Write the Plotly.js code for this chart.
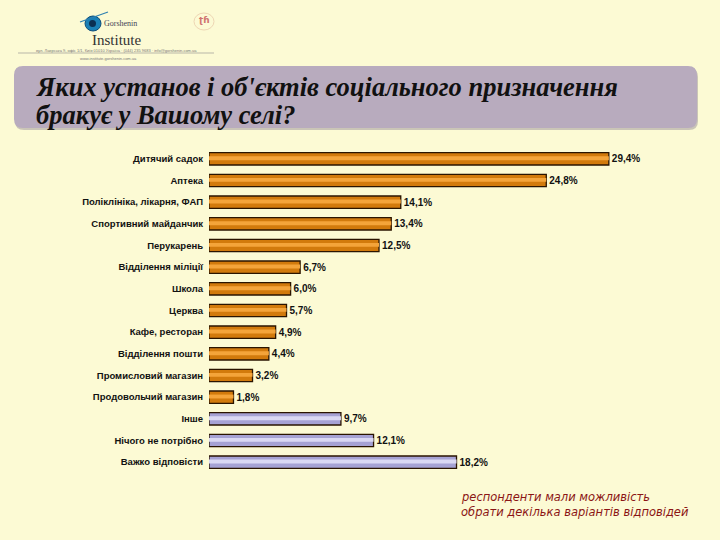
<!DOCTYPE html>
<html>
<head>
<meta charset="utf-8">
<script src="https://cdn.plot.ly/plotly-3.0.1.min.js"></script>
<style>
  body { margin: 0; background: #fcfad4; }
  #chart { width: 720px; height: 540px; }
</style>
</head>
<body>
<div id="chart"></div>
<script>
// Answers, top to bottom (share of respondents, %)
var places = [
  "Дитячий садок", "Аптека", "Поліклініка, лікарня, ФАП", "Спортивний майданчик",
  "Перукарень", "Відділення міліції", "Школа", "Церква", "Кафе, ресторан",
  "Відділення пошти", "Промисловий магазин", "Продовольчий магазин",
  "Інше", "Нічого не потрібно", "Важко відповісти"
];
var shares = [29.4, 24.8, 14.1, 13.4, 12.5, 6.7, 6.0, 5.7, 4.9, 4.4, 3.2, 1.8, 9.7, 12.1, 18.2];
// which bars are the "other" answers (drawn in lilac)
var group = ["main", "main", "main", "main", "main", "main", "main", "main", "main", "main", "main", "main", "other", "other", "other"];

var fill = { main: "#d27a0c", other: "#a6a2d4" };
var shine = { main: "#f4a43a", other: "#dad8f3" };

// plot box in pixels, used to place the decorations in paper units
var L = 209, R = 8, T = 148, B = 67;
var W = 720 - L - R, H = 540 - T - B;
function px(x) { return (x - L) / W; }
function py(y) { return (540 - B - y) / H; }

var labels = shares.map(v => v.toFixed(1).replace(".", ",") + "%");

var bars = {
  type: "bar", orientation: "h",
  x: shares, y: places,
  width: 0.57,
  marker: { color: group.map(g => fill[g]), line: { color: "#2a1400", width: 1.3 } },
  text: labels, textposition: "outside", cliponaxis: false,
  textfont: { family: "Liberation Sans, Arial", size: 10, color: "#111", weight: "bold" },
  hoverinfo: "skip"
};
var highlight = {
  type: "bar", orientation: "h",
  x: shares, y: places,
  width: 0.18, offset: -0.12,
  marker: { color: group.map(g => shine[g]), line: { width: 0 } },
  hoverinfo: "skip"
};

// title box with rounded corners
var r = 9;
function roundBox(x0, y0, x1, y1) {
  var a = px(x0), b = px(x1), c = py(y0), d = py(y1);
  var rx = r / W, ry = r / H;
  return "M" + (a + rx) + "," + c + " L" + (b - rx) + "," + c +
    " Q" + b + "," + c + " " + b + "," + (c - ry) +
    " L" + b + "," + (d + ry) + " Q" + b + "," + d + " " + (b - rx) + "," + d +
    " L" + (a + rx) + "," + d + " Q" + a + "," + d + " " + a + "," + (d + ry) +
    " L" + a + "," + (c - ry) + " Q" + a + "," + c + " " + (a + rx) + "," + c + " Z";
}

var shapes = [
  { type: "path", xref: "paper", yref: "paper", layer: "below", path: roundBox(15, 68, 698, 130),
    fillcolor: "#8f8694", line: { width: 0 }, opacity: 0.45 },
  { type: "path", xref: "paper", yref: "paper", layer: "below", path: roundBox(14, 66, 697, 128),
    fillcolor: "#b8abbe", line: { width: 0 } },
  // logo eye
  { type: "circle", xref: "paper", yref: "paper", x0: px(85), x1: px(101), y0: py(31), y1: py(16),
    fillcolor: "#1a7fb5", line: { color: "#0c4c78", width: 1 } },
  { type: "circle", xref: "paper", yref: "paper", x0: px(89), x1: px(96), y0: py(27), y1: py(20),
    fillcolor: "#0b2f52", line: { width: 0 } },
  { type: "line", xref: "paper", yref: "paper", x0: px(80), x1: px(108), y0: py(22), y1: py(12),
    line: { color: "#2d7fb0", width: 1.2 } },
  { type: "line", xref: "paper", yref: "paper", x0: px(18), x1: px(214), y0: py(53), y1: py(53),
    line: { color: "#8a8a8a", width: 0.6 } },
  // small partner logo
  { type: "circle", xref: "paper", yref: "paper", x0: px(194), x1: px(214), y0: py(30), y1: py(13),
    fillcolor: "rgba(0,0,0,0)", line: { color: "#eed6b4", width: 1 } }
];

var titleFont = { family: "Liberation Serif, Times New Roman, serif", size: 26.5, color: "#111" };
var noteFont = { family: "DejaVu Sans, Verdana", size: 11.5, color: "#8b1515" };

var annotations = [
  { text: "<i><b>Яких установ і об'єктів соціального призначення</b></i>",
    xref: "paper", yref: "paper", x: px(34), y: py(87), xanchor: "left", yanchor: "middle",
    showarrow: false, font: titleFont },
  { text: "<i><b>бракує у Вашому селі?</b></i>",
    xref: "paper", yref: "paper", x: px(34), y: py(115), xanchor: "left", yanchor: "middle",
    showarrow: false, font: titleFont },
  { text: "<i>респонденти мали можливість</i>",
    xref: "paper", yref: "paper", x: px(459), y: py(497), xanchor: "left", yanchor: "middle",
    showarrow: false, font: noteFont },
  { text: "<i>обрати декілька варіантів відповідей</i>",
    xref: "paper", yref: "paper", x: px(459), y: py(512), xanchor: "left", yanchor: "middle",
    showarrow: false, font: noteFont },
  { text: "Gorshenin", xref: "paper", yref: "paper", x: px(102), y: py(24), xanchor: "left", yanchor: "middle",
    showarrow: false, font: { family: "Liberation Serif", size: 8, color: "#445" } },
  { text: "Institute", xref: "paper", yref: "paper", x: px(90), y: py(40), xanchor: "left", yanchor: "middle",
    showarrow: false, font: { family: "Liberation Serif", size: 15, color: "#333" } },
  { text: "вул. Лаврська 9, офіс 1/1, Київ 01010 Україна · (044) 235 9683 · info@gorshenin.com.ua",
    xref: "paper", yref: "paper", x: px(116), y: py(50), xanchor: "center", yanchor: "middle",
    showarrow: false, font: { family: "Liberation Sans", size: 4, color: "#777" } },
  { text: "www.institute.gorshenin.com.ua", xref: "paper", yref: "paper", x: px(108), y: py(58),
    xanchor: "center", yanchor: "middle", showarrow: false,
    font: { family: "Liberation Sans", size: 4, color: "#777" } },
  { text: "<b>ʈɦ</b>", xref: "paper", yref: "paper", x: px(204), y: py(20), xanchor: "center", yanchor: "middle",
    showarrow: false, font: { family: "DejaVu Sans", size: 9, color: "#d07370" } }
];

var layout = {
  width: 720, height: 540,
  margin: { l: L, r: R, t: T, b: B },
  paper_bgcolor: "#fcfad4", plot_bgcolor: "#fcfad4",
  showlegend: false,
  barmode: "overlay",
  xaxis: { range: [0, W / 13.6], visible: false, fixedrange: true },
  yaxis: {
    type: "category", autorange: "reversed",
    showline: false, showgrid: false, zeroline: false, ticks: "",
    ticklabelstandoff: 5,
    tickfont: { family: "Liberation Sans, Arial", size: 9.5, color: "#111", weight: "bold" }
  },
  shapes: shapes,
  annotations: annotations
};

Plotly.newPlot("chart", [bars, highlight], layout, { staticPlot: true });
</script>
</body>
</html>
